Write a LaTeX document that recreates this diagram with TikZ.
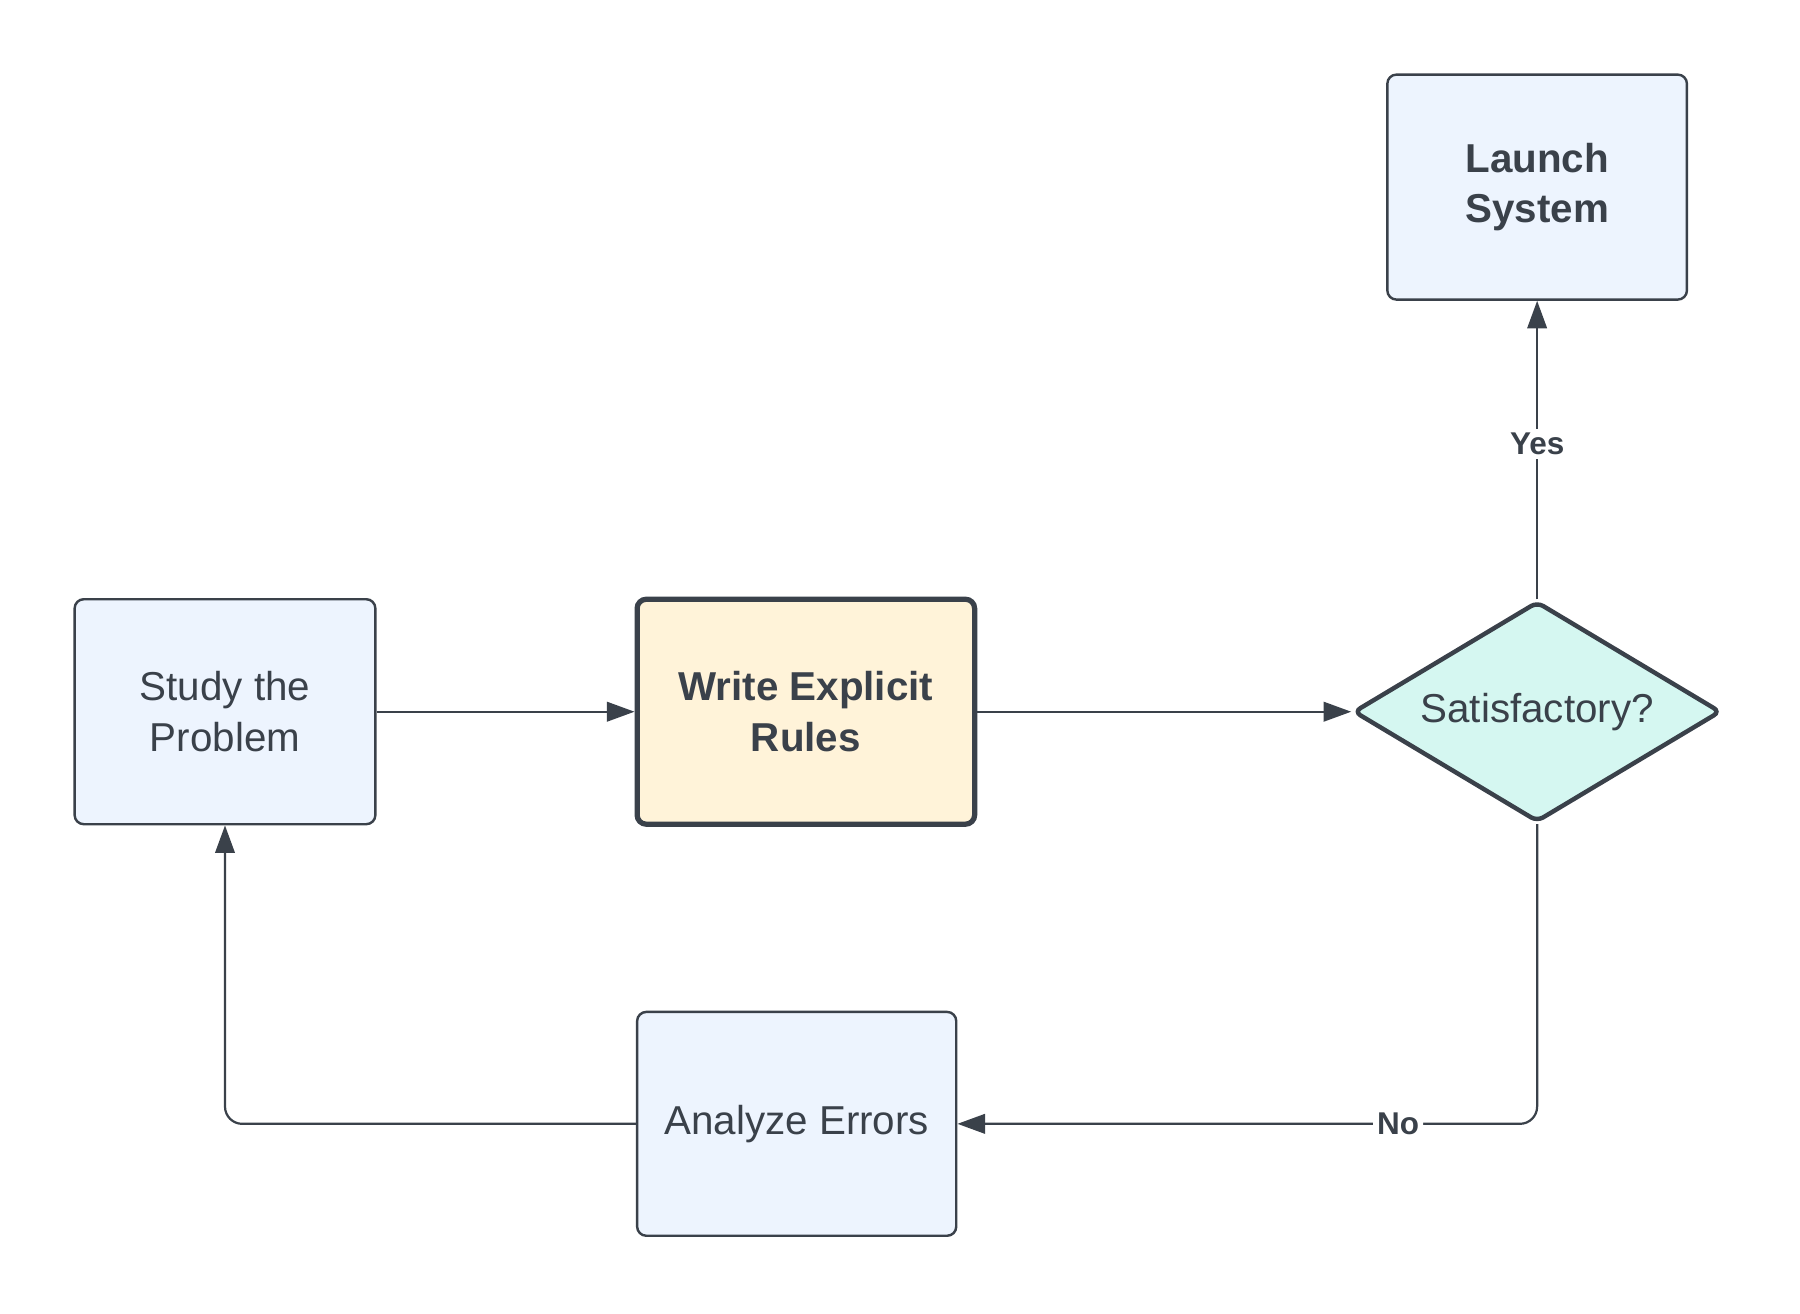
\documentclass[tikz,border=0pt]{standalone}
\usepackage{fontspec}
\setmainfont{Liberation Sans}
\usetikzlibrary{shapes.geometric}
\usetikzlibrary{arrows.meta}
\usetikzlibrary{positioning,calc}
\definecolor{ink}{HTML}{3A414A}
\definecolor{boxblue}{HTML}{EDF4FE}
\definecolor{boxyellow}{HTML}{FFF3D9}
\definecolor{boxgreen}{HTML}{D5F7F1}
\tikzset{
	box/.style={draw=ink, line width=0.6pt, fill=boxblue, rounded corners=0.8mm, minimum height=1.96cm, align=center, text=ink, font=\fontsize{10}{12.5}\selectfont},
	keybox/.style={box, fill=boxyellow, line width=1.3pt, font=\fontsize{10}{12.5}\selectfont\bfseries},
	decide/.style={diamond, aspect=1.67, draw=ink, line width=1.1pt, fill=boxgreen, rounded corners=0.6mm, minimum width=3.2cm, minimum height=1.92cm, inner sep=0pt, text=ink, font=\fontsize{10}{12.5}\selectfont},
	line/.style={draw=ink, line width=0.55pt, -{Triangle[length=2.4mm,width=1.7mm]}},
	lab/.style={fill=white, inner sep=1pt, text=ink, font=\fontsize{7.8}{9}\selectfont\bfseries}
}
\begin{document}
\begin{tikzpicture}
	\useasboundingbox (0,0) rectangle (15.68,11.44);
	\node [box, minimum width=2.62cm] (study) at (1.96,5.24) {Study the\\Problem};
	\node [keybox, minimum width=2.94cm] (rules) at (7.02,5.24) {Write Explicit\\Rules};
	\node [decide] (sat) at (13.39,5.24) {Satisfactory?};
	\node [box, minimum width=2.61cm, font=\fontsize{10}{12.5}\selectfont\bfseries] (launch) at (13.39,9.81) {Launch\\System};
	\node [box, minimum width=2.78cm, minimum height=1.95cm] (errors) at (6.94,1.65) {Analyze Errors};
	\draw [line] (study) -- (rules);
	\draw [line] (rules) -- (sat);
	\draw [line] (sat) -- node [lab, pos=0.52] {Yes} (launch);
	\draw [line, rounded corners=1.5mm] (sat.south) |- node [lab, pos=0.62] {No} (errors.east);
	\draw [line, rounded corners=1.5mm] (errors.west) -| (study.south);
\end{tikzpicture}
\end{document}
